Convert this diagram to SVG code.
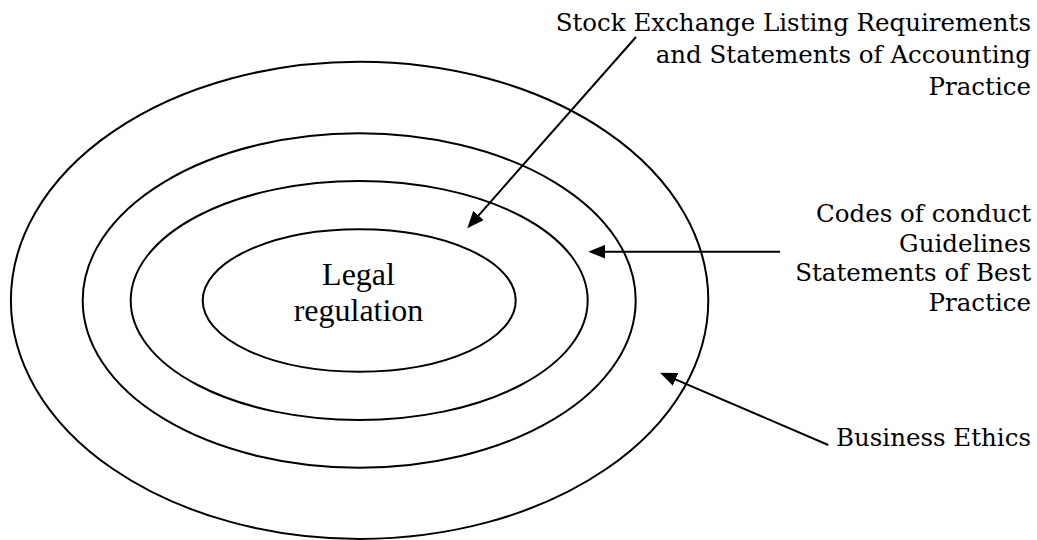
<svg xmlns="http://www.w3.org/2000/svg" width="1037" height="540" viewBox="0 0 1037 540">
  <style>
    .ring { fill: none; stroke: #000; stroke-width: 2; }
    .conn { fill: none; stroke: #000; stroke-width: 2; marker-end: url(#arrow); }
    .lbl { font-family: "DejaVu Serif", "Liberation Serif", serif; font-size: 24.5px; fill: #000; text-anchor: end; }
    .core { font-family: "Liberation Serif", "Times New Roman", serif; font-size: 32px; fill: #000; text-anchor: middle; }
  </style>
  <defs>
    <marker id="arrow" markerUnits="userSpaceOnUse" markerWidth="18" markerHeight="14" viewBox="0 0 18 14" refX="13" refY="7" orient="auto">
      <path d="M0,0 L17,7 L0,14 z" fill="#000"/>
    </marker>
  </defs>
  <rect width="1037" height="540" fill="#fff"/>
  <g id="business-ethics-ring">
    <ellipse class="ring" cx="359.6" cy="300.3" rx="348.7" ry="238.6"/>
  </g>
  <g id="codes-ring">
    <ellipse class="ring" cx="359.2" cy="300.5" rx="276.5" ry="167.2"/>
  </g>
  <g id="stock-exchange-ring">
    <ellipse class="ring" cx="359.2" cy="300.5" rx="228.5" ry="119.5"/>
  </g>
  <g id="legal-regulation">
    <ellipse class="ring" cx="359.2" cy="300.5" rx="156.5" ry="71.2"/>
    <text class="core" x="358.5" y="285.2"><tspan x="358.5" y="285.2">Legal</tspan><tspan x="358.5" y="321.2">regulation</tspan></text>
  </g>
  <g id="label-stock-exchange">
    <text class="lbl" x="1031" y="30.7"><tspan x="1031" y="30.7">Stock Exchange Listing Requirements</tspan><tspan x="1031" y="63">and Statements of Accounting</tspan><tspan x="1031" y="95">Practice</tspan></text>
  </g>
  <g id="label-codes">
    <text class="lbl" x="1031" y="221.7"><tspan x="1031" y="221.7">Codes of conduct</tspan><tspan x="1031" y="251.5">Guidelines</tspan><tspan x="1031" y="281.2">Statements of Best</tspan><tspan x="1031" y="310.8">Practice</tspan></text>
  </g>
  <g id="label-business-ethics">
    <text class="lbl" x="1031" y="446">Business Ethics</text>
  </g>
  <g id="connectors">
    <line class="conn" x1="636" y1="37" x2="469.9" y2="225.3"/>
    <line class="conn" x1="780" y1="251.7" x2="592.3" y2="251.7"/>
    <line class="conn" x1="828.3" y1="445" x2="663.7" y2="374.3"/>
  </g>
</svg>
